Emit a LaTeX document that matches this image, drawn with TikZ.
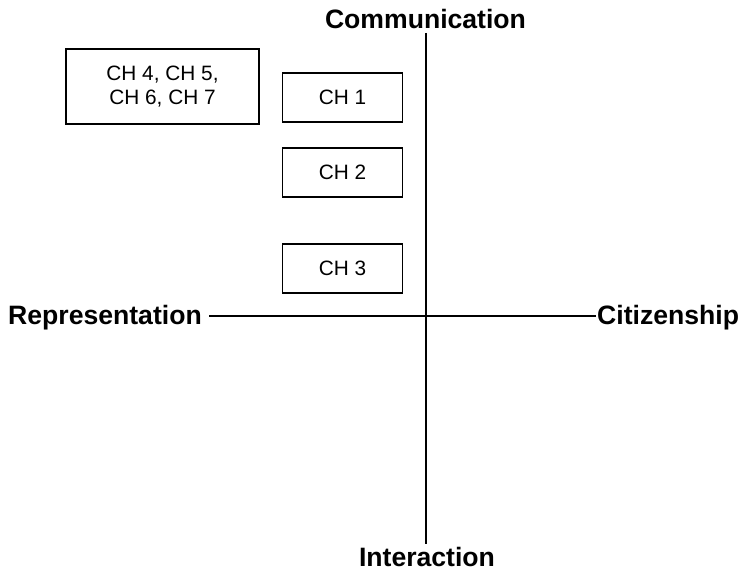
\documentclass[tikz,border=0pt]{standalone}
\usepackage{fontspec}
\setmainfont{Liberation Sans}
\begin{document}
\begin{tikzpicture}[x=1pt,y=-1pt,
  axis/.style={line width=1.6pt},
  chbox/.style={draw,line width=1.5pt,minimum width=120pt,minimum height=49pt,inner sep=0pt,font=\fontsize{20.8}{24.5}\selectfont},
  lbl/.style={font=\fontsize{26.6}{31}\selectfont\bfseries,inner sep=0pt}]
\useasboundingbox (0,0) rectangle (742,572);
\node[lbl] (com) at (425.5,19) {Communication};
\node[lbl] (int) at (427,557) {Interaction};
\node[lbl,anchor=east] (rep) at (202,318) {Representation};
\node[lbl,anchor=west] (cit) at (597,318) {Citizenship};
\coordinate (top) at (426,33);
\coordinate (bot) at (426,544);
\coordinate (lft) at (209,316);
\coordinate (rgt) at (596,316);
\draw[axis] (top) -- (bot);
\draw[axis] (lft) -- (rgt);
\node[chbox,minimum width=193pt,minimum height=75pt,align=center] (big) at (162.5,86.5) {CH 4, CH 5,\\CH 6, CH 7};
\node[chbox] (ch1) at (342.5,97.5) {CH 1};
\node[chbox] (ch2) at (342.5,172.5) {CH 2};
\node[chbox] (ch3) at (342.5,268.5) {CH 3};
\end{tikzpicture}
\end{document}
